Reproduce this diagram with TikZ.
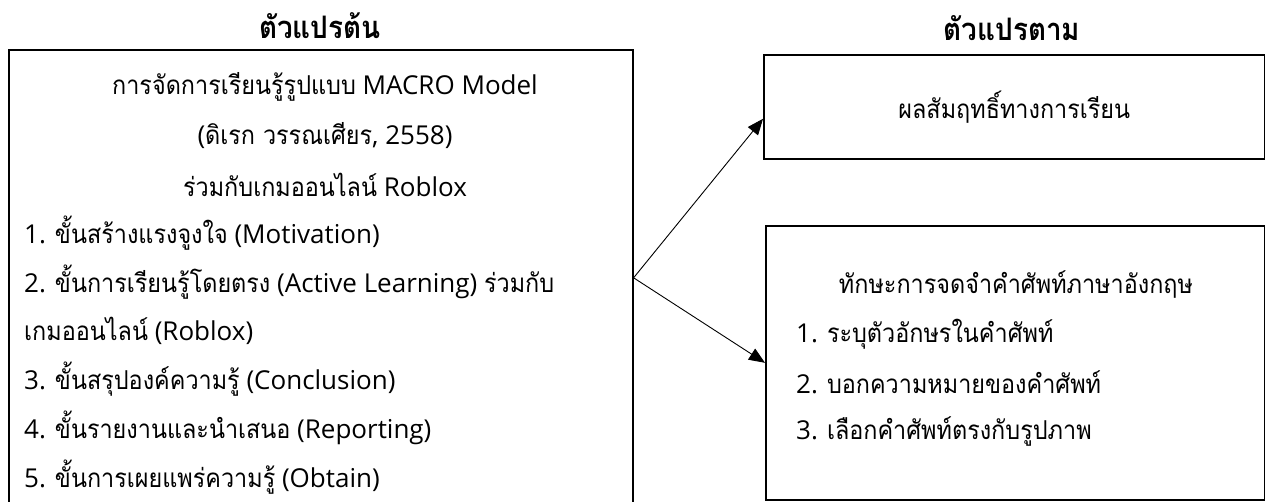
\documentclass[tikz,border=0pt]{standalone}
\usepackage{fontspec}
\setmainfont{Open Sans}
\newfontfamily\thaifont[Script=Thai,Scale=1.0,FakeStretch=0.9]{Loma}
\newcommand{\thaitxt}[1]{{\thaifont #1}}
\usetikzlibrary{positioning,calc}
\usetikzlibrary{arrows.meta}
\tikzset{
  varbox/.style={draw=black,line width=1.6pt,inner sep=0pt},
  head/.style={font=\thaifont\bfseries\fontsize{31}{34}\selectfont,inner sep=0pt},
  txt/.style={font=\fontsize{26}{30}\selectfont,inner sep=0pt},
}
\tikzset{link/.style={draw=black,line width=0.9pt,-{Triangle[length=16pt,width=13pt]}}}

\begin{document}
\begin{tikzpicture}[x=1pt,y=-1pt]
\useasboundingbox (0,0) rectangle (1265,501);
% boxes
\node[varbox,anchor=north west,minimum width=624pt,minimum height=456pt] (indep) at (8,49) {};
\node[varbox,anchor=north west,minimum width=501pt,minimum height=104pt] (achieve) at (763,54) {};
\node[varbox,anchor=north west,minimum width=499pt,minimum height=274pt] (skill) at (765,225) {};
% titles
\node[head] (indeptitle) at (320,26) {ตัวแปรต้น};
\node[head] (deptitle) at (1012,28) {ตัวแปรตาม};
% independent variable
\foreach \t [count=\i from 0] in {{\thaitxt{การจัดการเรียนรู้รูปแบบ} MACRO Model},{(\thaitxt{ดิเรก วรรณเศียร}, 2558)},{\thaitxt{ร่วมกับเกมออนไลน์} Roblox}}
  \node[txt] (c\i) at (325,87+48.75*\i) {\t};
\foreach \t [count=\i from 3] in {{1. \thaitxt{ขั้นสร้างแรงจูงใจ} (Motivation)},{2. \thaitxt{ขั้นการเรียนรู้โดยตรง} (Active Learning) \thaitxt{ร่วมกับ}},{\thaitxt{เกมออนไลน์} (Roblox)},{3. \thaitxt{ขั้นสรุปองค์ความรู้} (Conclusion)},{4. \thaitxt{ขั้นรายงานและนำเสนอ} (Reporting)},{5. \thaitxt{ขั้นการเผยแพร่ความรู้} (Obtain)}}
  \node[txt,anchor=west] (c\i) at (24,87+48.75*\i) {\t};
% dependent variables
\node[txt] (achievetext) at (achieve.center) {\thaitxt{ผลสัมฤทธิ์ทางการเรียน}};
\node[txt] (skillhead) at (1016,285) {\thaitxt{ทักษะการจดจำคำศัพท์ภาษาอังกฤษ}};
\foreach \t [count=\i from 1] in {{1. \thaitxt{ระบุตัวอักษรในคำศัพท์}},{2. \thaitxt{บอกความหมายของคำศัพท์}},{3. \thaitxt{เลือกคำศัพท์ตรงกับรูปภาพ}}}
  \node[txt,anchor=west] (s\i) at (796,285+48.75*\i) {\t};
% arrows
\coordinate (fork) at (indep.east);
\draw[link] (fork) -- ([yshift=-12pt]achieve.west);
\draw[link] (fork) -- (skill.west);
\end{tikzpicture}
\end{document}
